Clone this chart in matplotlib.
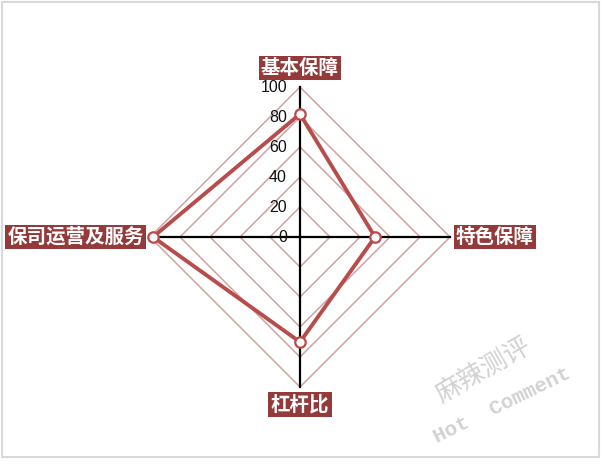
import numpy as np
import matplotlib
matplotlib.use("Agg")
import matplotlib.pyplot as plt
from matplotlib.patches import Rectangle

categories = ["基本保障", "特色保障", "杠杆比", "保司运营及服务"]
values = [82, 50, 70, 98]
rings = [20, 40, 60, 80, 100]
tick_labels = ["0", "20", "40", "60", "80", "100"]
tick_values = [0, 20, 40, 60, 80, 100]

plt.rcParams['font.family'] = ['Noto Sans CJK SC', 'DejaVu Sans']

fig = plt.figure(figsize=(6.01, 4.68), dpi=100)
fig.patch.set_facecolor('white')
ax = fig.add_axes([0, 0, 1, 1])
ax.set_xlim(-200, 200.67)
ax.set_ylim(-154, 158)
ax.axis('off')

# angles: top, right, bottom, left (clockwise from top)
angles = np.pi / 2 - np.arange(len(categories)) * 2 * np.pi / len(categories)
cx, cy = np.cos(angles), np.sin(angles)

grid_color = '#d2a2a2'
for r in rings:
    xs = np.append(cx * r, cx[0] * r)
    ys = np.append(cy * r, cy[0] * r)
    ax.plot(xs, ys, color=grid_color, lw=1.1, zorder=1)

for i in range(len(categories)):
    ax.plot([0, cx[i] * 100], [0, cy[i] * 100], color='black', lw=1.6, zorder=2)

v = np.array(values, dtype=float)
xs = np.append(cx * v, cx[0] * v[0])
ys = np.append(cy * v, cy[0] * v[0])
line_color = '#b84c4a'
ax.plot(xs, ys, color=line_color, lw=2.8, zorder=3, solid_joinstyle='miter')
ax.plot(cx * v, cy * v, 'o', ms=7.5, mfc='white', mec=line_color, mew=1.6, zorder=4, lw=0)

for t, lab in zip(tick_values, tick_labels):
    ax.text(-8.7, t, lab, ha='right', va='center', fontsize=11.5,
            family=['Liberation Sans', 'DejaVu Sans'], color='#111111', zorder=5)

box = dict(boxstyle='square,pad=0.12', fc='#943a3a', ec='none')
label_pos = [((300 - 300) / 1.5, (237 - 68) / 1.5, 'center'),
             ((456 - 300) / 1.5, 0, 'left'),
             (0, (237 - 404.5) / 1.5, 'center'),
             ((144 - 300) / 1.5, 0, 'right')]
for cat, (x, y, ha) in zip(categories, label_pos):
    ax.text(x, y, cat, ha=ha, va='center', fontsize=14, fontweight='bold',
            color='white', bbox=box, zorder=6)

# watermark
ax.text((483 - 300) / 1.5, (237 - 370) / 1.5, "麻辣测评", rotation=30, ha='center', va='center',
        fontsize=19, color='#d2d2d2', fontweight='light', zorder=0)
ax.text((502 - 300) / 1.5, (237 - 405) / 1.5, "Hot  Comment", rotation=26, ha='center', va='center',
        fontsize=15, color='#d2d2d2', fontweight='bold',
        family=['Liberation Mono', 'DejaVu Sans Mono'], zorder=0)

fig.patches.append(Rectangle((2 / 601, (468 - 457) / 468), 597 / 601, 455 / 468,
                             transform=fig.transFigure, fill=False, ec='#d9d9d9', lw=1.5))

fig.savefig('out.png', dpi=100, facecolor='white')
